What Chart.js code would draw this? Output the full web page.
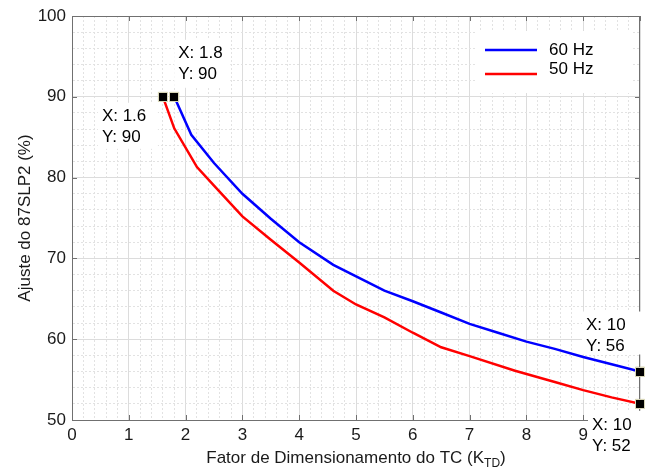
<!DOCTYPE html>
<html>
<head>
<meta charset="utf-8">
<script src="https://cdn.jsdelivr.net/npm/chart.js@4/dist/chart.umd.min.js"></script>
<style>
  html, body { margin:0; padding:0; background:#fff; }
  #wrap { width:649px; height:468px; position:relative; }
</style>
</head>
<body>
<div id="wrap"><canvas id="chart"></canvas></div>
<script>
// 60 Hz curve
const x60 = [1.8, 2.1, 2.5, 3, 3.5, 4, 4.6, 5.5, 6, 6.5, 7, 7.5, 8, 8.5, 9, 9.5, 10];
const y60 = [90, 85.3, 81.8, 78.0, 74.9, 72.0, 69.2, 66.0, 64.7, 63.3, 61.9, 60.8, 59.7, 58.8, 57.8, 56.9, 56];
// 50 Hz curve
const x50 = [1.6, 1.8, 2.2, 2.5, 3, 3.5, 4, 4.6, 5, 5.5, 6, 6.5, 7, 7.8, 8.5, 9, 9.5, 10];
const y50 = [90, 86.1, 81.3, 79.0, 75.2, 72.3, 69.5, 66.0, 64.3, 62.7, 60.8, 59.0, 57.9, 56.1, 54.7, 53.7, 52.8, 52];
// data tips
const tipX = [1.8, 1.6, 10, 10];
const tipY = [90, 90, 56, 52];
const seriesNames = ['60 Hz', '50 Hz'];
const seriesColors = ['#0000ff', '#ff0000'];
const xTitle = 'Fator de Dimensionamento do TC (K';
const xTitleSub = 'TD';
const yTitle = 'Ajuste do 87SLP2 (%)';

const FONT = '"Liberation Sans", Arial, sans-serif';
const AXIS = '#707070';
const isMajorX = v => Math.abs(v - Math.round(v)) < 1e-6;
const isMajorY = v => Math.abs(v / 10 - Math.round(v / 10)) < 1e-6;

const pts = (xs, ys) => xs.map((x, i) => ({ x: x, y: ys[i] }));

// where each tip label box sits relative to its marker (dx, dy of box top-left, w, h)
const tipBoxes = [
  { dx: 0,   dy: -57, w: 56, h: 48 },
  { dx: -65, dy: 6,   w: 60, h: 46 },
  { dx: -58, dy: -60, w: 68, h: 43 },
  { dx: -52, dy: 7,   w: 62, h: 46 }
];

const extras = {
  id: 'extras',
  afterDraw(chart) {
    const ctx = chart.ctx;
    const a = chart.chartArea;
    const xs = chart.scales.x, ys = chart.scales.y;
    ctx.save();

    // box
    ctx.strokeStyle = AXIS;
    ctx.lineWidth = 1;
    ctx.strokeRect(a.left + 0.5, a.top + 0.5, a.right - a.left - 1, a.bottom - a.top);

    // inward ticks
    ctx.beginPath();
    for (let v = 0; v <= 10; v++) {
      const px = Math.round(xs.getPixelForValue(v)) + 0.5;
      ctx.moveTo(px, a.bottom); ctx.lineTo(px, a.bottom - 5);
      ctx.moveTo(px, a.top); ctx.lineTo(px, a.top + 5);
    }
    for (let v = 50; v <= 100; v += 10) {
      const py = Math.round(ys.getPixelForValue(v)) + 0.5;
      ctx.moveTo(a.left, py); ctx.lineTo(a.left + 5, py);
      ctx.moveTo(a.right, py); ctx.lineTo(a.right - 5, py);
    }
    ctx.stroke();

    // legend
    ctx.fillStyle = '#fff';
    ctx.fillRect(477, 31, 156, 62);
    ctx.lineWidth = 2.5;
    const legY = [50, 74];
    const legTextY = [50, 69];
    ctx.font = '17px ' + FONT;
    ctx.textBaseline = 'middle';
    ctx.textAlign = 'left';
    seriesNames.forEach((n, i) => {
      ctx.strokeStyle = seriesColors[i];
      ctx.beginPath();
      ctx.moveTo(485, legY[i]); ctx.lineTo(537, legY[i]);
      ctx.stroke();
      ctx.fillStyle = '#000';
      ctx.fillText(n, 549, legTextY[i]);
    });

    // x title with subscript
    ctx.fillStyle = '#1a1a1a';
    ctx.textBaseline = 'alphabetic';
    ctx.font = '17px ' + FONT;
    const w1 = ctx.measureText(xTitle).width;
    ctx.font = '12px ' + FONT;
    const w2 = ctx.measureText(xTitleSub).width;
    ctx.font = '17px ' + FONT;
    const w3 = ctx.measureText(')').width;
    let tx = (a.left + a.right) / 2 - (w1 + w2 + w3) / 2;
    ctx.fillText(xTitle, tx, 463);
    ctx.font = '12px ' + FONT;
    ctx.fillText(xTitleSub, tx + w1, 467);
    ctx.font = '17px ' + FONT;
    ctx.fillText(')', tx + w1 + w2, 463);

    // data tip labels
    ctx.font = '17px ' + FONT;
    ctx.textBaseline = 'middle';
    tipX.forEach((x, i) => {
      const px = xs.getPixelForValue(x), py = ys.getPixelForValue(tipY[i]);
      const b = tipBoxes[i];
      const bx = px + b.dx, by = py + b.dy;
      ctx.fillStyle = '#fff';
      ctx.fillRect(bx, by, b.w, b.h);
      ctx.fillStyle = '#000';
      ctx.fillText('X: ' + x, bx + 4, by + 14);
      ctx.fillText('Y: ' + tipY[i], bx + 4, by + 35);
    });

    // redraw markers on top
    const meta = chart.getDatasetMeta(2);
    meta.data.forEach(el => {
      ctx.fillStyle = '#000';
      ctx.strokeStyle = '#d8d6b8';
      ctx.lineWidth = 1;
      ctx.fillRect(Math.round(el.x) - 4.5, Math.round(el.y) - 4.5, 9, 9);
      ctx.strokeRect(Math.round(el.x) - 4.5, Math.round(el.y) - 4.5, 9, 9);
    });
    ctx.restore();
  }
};

new Chart(document.getElementById('chart'), {
  type: 'scatter',
  data: {
    datasets: [
      { label: seriesNames[0], data: pts(x60, y60), showLine: true, borderColor: seriesColors[0], borderWidth: 2.5, pointRadius: 0, tension: 0, fill: false },
      { label: seriesNames[1], data: pts(x50, y50), showLine: true, borderColor: seriesColors[1], borderWidth: 2.5, pointRadius: 0, tension: 0, fill: false },
      { label: 'tips', data: pts(tipX, tipY), showLine: false, pointStyle: 'rect', pointRadius: 6.4, backgroundColor: '#000', borderColor: '#d8d6b8', borderWidth: 1, clip: false }
    ]
  },
  options: {
    responsive: true,
    maintainAspectRatio: false,
    animation: false,
    layout: { padding: { top: 16, right: 9, left: 0, bottom: 0 } },
    plugins: { legend: { display: false }, tooltip: { enabled: false } },
    scales: {
      x: {
        type: 'linear', min: 0, max: 10,
        afterFit: s => { s.height = 48; s.paddingLeft = 0; s.paddingRight = 0; },
        ticks: {
          stepSize: 0.2, maxTicksLimit: 100, autoSkip: false, maxRotation: 0, padding: 5,
          color: '#1a1a1a', font: { family: FONT, size: 17 },
          callback: v => isMajorX(v) ? String(Math.round(v)) : ''
        },
        grid: {
          drawTicks: false,
          color: c => isMajorX(c.tick.value) ? '#dcdcdc' : '#e2e2e2',
          lineWidth: 1
        },
        border: { display: true, color: AXIS, dash: c => (c.tick && !isMajorX(c.tick.value)) ? [2, 2] : [] }
      },
      y: {
        type: 'linear', min: 50, max: 100,
        afterFit: s => { s.width = 72; s.paddingTop = 0; s.paddingBottom = 0; },
        ticks: {
          stepSize: 2, maxTicksLimit: 100, autoSkip: false, padding: 6,
          color: '#1a1a1a', font: { family: FONT, size: 17 },
          callback: v => isMajorY(v) ? String(Math.round(v)) : ''
        },
        grid: {
          drawTicks: false,
          color: c => isMajorY(c.tick.value) ? '#dcdcdc' : '#e2e2e2',
          lineWidth: 1
        },
        border: { display: true, color: AXIS, dash: c => (c.tick && !isMajorY(c.tick.value)) ? [2, 2] : [] },
        title: { display: true, text: yTitle, color: '#1a1a1a', font: { family: FONT, size: 17 }, padding: { top: 15, bottom: 0 } }
      }
    }
  },
  plugins: [extras]
});
</script>
</body>
</html>
